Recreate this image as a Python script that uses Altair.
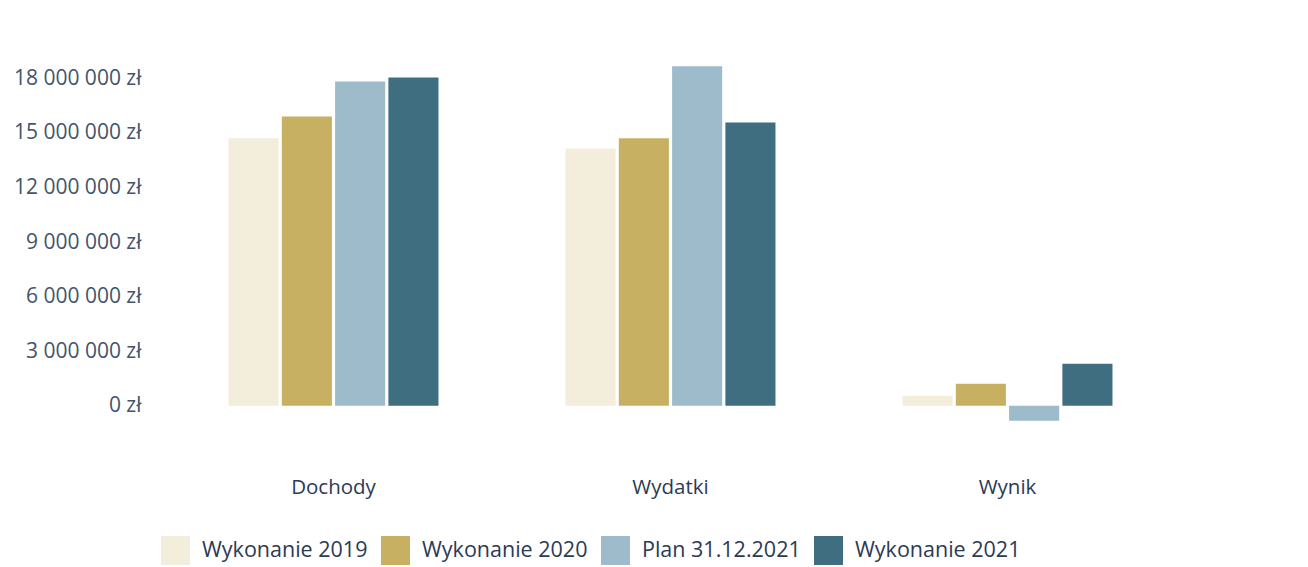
import altair as alt
import pandas as pd

categories = ["Dochody", "Wydatki", "Wynik"]
series = ["Wykonanie 2019", "Wykonanie 2020", "Plan 31.12.2021", "Wykonanie 2021"]
colors = ["#F3EDDC", "#C8B062", "#9DBBCA", "#3E6E80"]

dochody = [14700000, 15900000, 17830000, 18050000]
wydatki = [14140000, 14700000, 18660000, 15570000]
wynik = [550000, 1200000, -830000, 2300000]

tick_values = [0, 3000000, 6000000, 9000000, 12000000, 15000000, 18000000]

rows = []
for cat, vals in zip(categories, [dochody, wydatki, wynik]):
    for s, v in zip(series, vals):
        rows.append({"kategoria": cat, "seria": s, "wartosc": v})
df = pd.DataFrame(rows)

font = "Open Sans"
label_expr = "replace(replace(format(datum.value, ',d'), ',', ' '), ',', ' ') + ' zł'"

chart = alt.Chart(df).mark_bar().encode(
    x=alt.X("kategoria:N", sort=categories, title=None,
            scale=alt.Scale(paddingInner=0.377, paddingOuter=0.1885),
            axis=alt.Axis(labelAngle=0, domain=False, ticks=False, labelPadding=35,
                          labelFontSize=20.5, labelFont=font, labelColor="#2B3A55")),
    xOffset=alt.XOffset("seria:N", sort=series,
                        scale=alt.Scale(paddingInner=0.06, paddingOuter=0)),
    y=alt.Y("wartosc:Q", title=None,
            scale=alt.Scale(domain=[-2000000, 20000000], nice=False, zero=False),
            axis=alt.Axis(values=tick_values, labelExpr=label_expr, grid=False,
                          domain=False, ticks=False, labelPadding=24,
                          labelFontSize=21, labelFont=font, labelColor="#44546A")),
    color=alt.Color("seria:N", sort=series,
                    scale=alt.Scale(domain=series, range=colors),
                    legend=alt.Legend(title=None, orient="none", legendX=-4, legendY=494,
                                      direction="horizontal", columns=4,
                                      symbolType="square", symbolSize=840,
                                      symbolStrokeWidth=0, labelFontSize=21.5,
                                      labelFont=font, labelColor="#2B3A55",
                                      columnPadding=13, labelOffset=12,
                                      symbolOpacity=1, labelLimit=300)),
).properties(
    width=1011, height=400,
    background="white",
    autosize=alt.AutoSizeParams(type="none"),
    padding={"left": 157, "top": 34, "right": 120, "bottom": 125},
).configure_view(strokeWidth=0, stroke=None)

chart.save("out.html", embed_options={"renderer": "svg", "actions": False})
